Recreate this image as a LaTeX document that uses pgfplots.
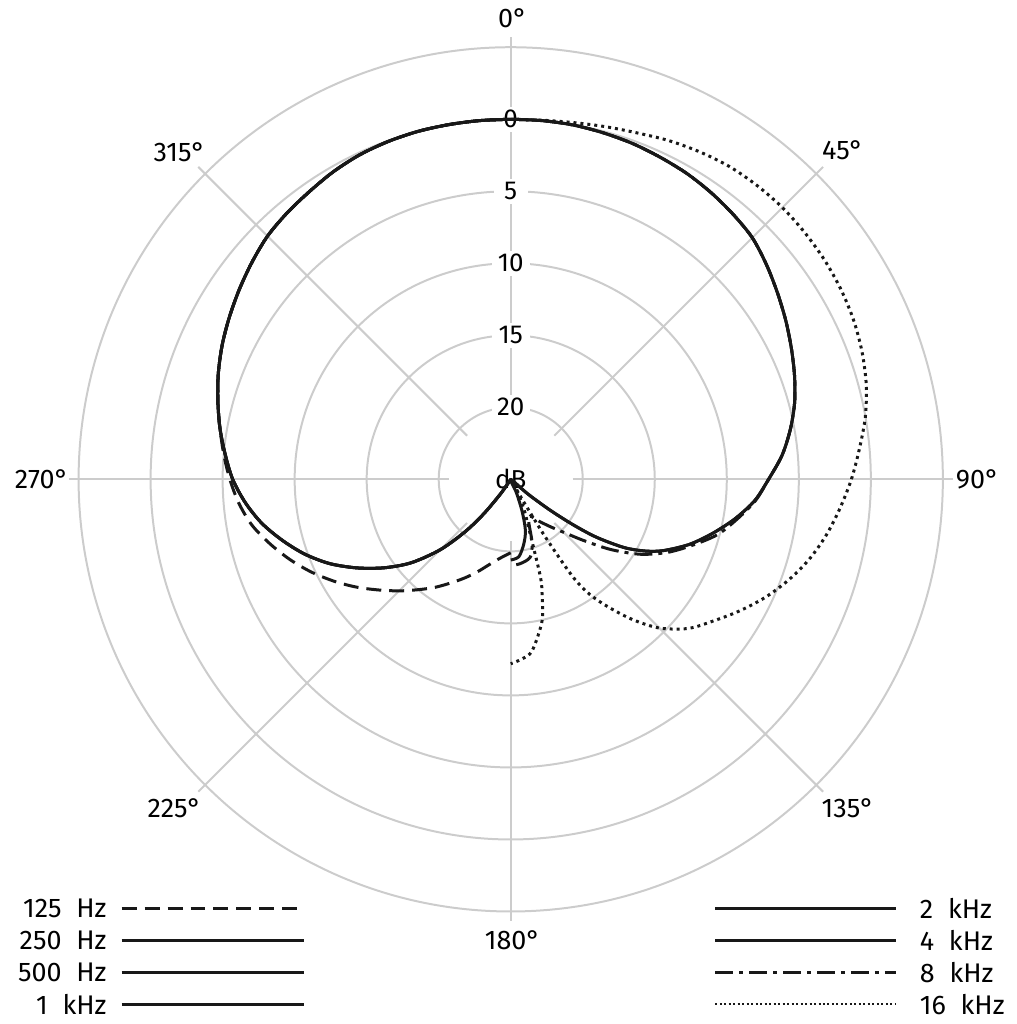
\documentclass[border=0pt]{standalone}
\usepackage{pgfplots}
\pgfplotsset{compat=1.18}
\usepackage{pgfplotstable}
\usepackage{fontspec}
\setmainfont{Fira Sans}
\definecolor{gridc}{RGB}{204,204,204}
\definecolor{curvec}{RGB}{24,24,24}
\newcommand{\wsp}{\hspace{0.55em}}

% left half: 250 Hz, 500 Hz, 1 kHz (angle in degrees clockwise from 0, level in dB)
\pgfplotstableread{
a db
213 -25
215 -23.8
218 -22
221 -20.2
225 -18.1
230 -16.0
235 -14.3
240 -12.7
245 -11.15
250 -9.8
255 -8.6
260 -7.45
265 -6.5
270 -5.7
275 -5.1
280 -4.5
285 -3.95
290 -3.4
295 -2.9
300 -2.45
305 -2.0
310 -1.55
315 -1.12
320 -0.85
325 -0.62
330 -0.35
335 -0.15
340 -0.05
345 0
350 0
355 0
360 0
}\tabL

% 125 Hz
\pgfplotstableread{
a db
180 -19.9
185 -19.65
190 -19.3
195 -18.8
200 -18.15
205 -17.45
210 -16.7
215 -15.85
220 -15.0
225 -14.05
230 -13.05
235 -11.95
240 -10.85
245 -9.75
250 -8.7
255 -7.7
260 -6.75
265 -6.05
270 -5.5
275 -5.0
280 -4.5
285 -3.95
290 -3.4
295 -2.9
300 -2.45
305 -2.0
310 -1.55
315 -1.12
320 -0.85
325 -0.62
330 -0.35
335 -0.15
340 -0.05
345 0
350 0
355 0
360 0
}\tabD

% 2 kHz
\pgfplotstableread{
a db
0 0
5 0
10 -0.02
15 -0.1
20 -0.2
25 -0.35
30 -0.5
35 -0.72
40 -0.98
45 -1.28
50 -1.82
55 -2.4
60 -2.95
65 -3.5
70 -4.03
75 -4.6
80 -5.3
85 -6.1
90 -7.1
95 -8.0
100 -9.2
105 -10.5
110 -11.8
115 -13.3
118 -14.4
121 -15.8
124 -17.8
126 -19.6
128 -21.5
130.4 -23.4
133 -25
157 -24
160.5 -22.6
164 -21.3
168.7 -20.4
174 -19.6
180 -19.4
}\tabRtwo

% 4 kHz
\pgfplotstableread{
a db
0 0
5 0
10 -0.02
15 -0.1
20 -0.2
25 -0.35
30 -0.5
35 -0.72
40 -0.98
45 -1.28
50 -1.82
55 -2.4
60 -2.95
65 -3.5
70 -4.03
75 -4.6
80 -5.3
85 -6.1
90 -7.1
95 -8.0
100 -9.2
105 -10.5
110 -11.8
115 -13.3
118 -14.4
121 -15.8
124 -17.8
126 -19.6
128 -21.5
130.4 -23.4
133 -25
}\tabRfour

% 8 kHz
\pgfplotstableread{
a db
0 0
5 0
10 -0.02
15 -0.1
20 -0.2
25 -0.35
30 -0.5
35 -0.72
40 -0.98
45 -1.28
50 -1.82
55 -2.4
60 -2.95
65 -3.5
70 -4.03
75 -4.6
80 -5.3
85 -6.1
90 -7.1
95 -7.95
100 -9.05
105 -10.15
110 -11.6
115 -13.0
120 -14.6
125 -16.5
130 -18.4
135 -19.8
140 -20.7
146 -21.5
152 -22.1
157 -21.8
161 -20.5
164.5 -19.6
168 -19.3
174 -19.1
180 -19.0
}\tabReight

% 16 kHz
\pgfplotstableread{
a db
0 0
5 0.03
10 0.15
15 0.35
20 0.6
25 0.95
30 1.25
35 1.5
40 1.62
45 1.68
50 1.65
55 1.58
60 1.45
65 1.25
70 0.95
75 0.55
80 0.0
85 -0.7
90 -1.35
95 -2.05
100 -2.75
105 -3.55
110 -4.5
115 -5.55
120 -6.7
125 -7.85
130 -8.9
135 -10.4
139 -12.1
142.5 -13.8
145.5 -15.3
147.5 -17.0
149 -20.3
150 -23.2
151 -25
153 -23.8
156.5 -22.6
159.7 -21.4
163 -18.0
164.8 -16.7
167.6 -14.9
172.9 -13.0
176.5 -12.5
180 -12.2
}\tabRsixteen

\begin{document}
\fontsize{27}{32}\selectfont
\begin{tikzpicture}
\begin{axis}[
  scale only axis, width=1019pt, height=1024pt,
  xmin=-35.457, xmax=35.111, ymin=-37.812, ymax=33.102,
  hide axis, clip=false,
  every axis plot/.append style={curvec, line width=3pt, smooth, tension=0.5, line join=round},
]
\path (axis cs:-35.457,-37.812) rectangle (axis cs:35.111,33.102);
% grid circles
\draw[gridc, line width=2pt] (axis cs:0,0) circle[radius=72.2pt];
\draw[gridc, line width=2pt] (axis cs:0,0) circle[radius=144.4pt];
\draw[gridc, line width=2pt] (axis cs:0,0) circle[radius=216.6pt];
\draw[gridc, line width=2pt] (axis cs:0,0) circle[radius=288.8pt];
\draw[gridc, line width=2pt] (axis cs:0,0) circle[radius=361pt];
\draw[gridc, line width=2pt] (axis cs:0,0) circle[radius=433.2pt];
% spokes
\draw[gridc, line width=2pt] (axis cs:0,4.29) -- (axis cs:0,30.68);
\draw[gridc, line width=2pt] (axis cs:3.03,3.03) -- (axis cs:21.69,21.69);
\draw[gridc, line width=2pt] (axis cs:4.29,0) -- (axis cs:30.68,0);
\draw[gridc, line width=2pt] (axis cs:3.03,-3.03) -- (axis cs:21.69,-21.69);
\draw[gridc, line width=2pt] (axis cs:0,-4.29) -- (axis cs:0,-30.68);
\draw[gridc, line width=2pt] (axis cs:-3.03,-3.03) -- (axis cs:-21.69,-21.69);
\draw[gridc, line width=2pt] (axis cs:-4.29,0) -- (axis cs:-30.68,0);
\draw[gridc, line width=2pt] (axis cs:-3.03,3.03) -- (axis cs:-21.69,21.69);
% radial labels
\node[fill=white, inner sep=0pt, minimum width=34pt, minimum height=25pt, font=\fontsize{26}{30}\selectfont] at (axis cs:0,25) {0};
\node[fill=white, inner sep=0pt, minimum width=34pt, minimum height=25pt, font=\fontsize{26}{30}\selectfont] at (axis cs:0,20) {5};
\node[fill=white, inner sep=0pt, minimum width=38pt, minimum height=25pt, font=\fontsize{26}{30}\selectfont] at (axis cs:0,15) {10};
\node[fill=white, inner sep=0pt, minimum width=38pt, minimum height=25pt, font=\fontsize{26}{30}\selectfont] at (axis cs:0,10) {15};
\node[fill=white, inner sep=0pt, minimum width=38pt, minimum height=25pt, font=\fontsize{26}{30}\selectfont] at (axis cs:0,5) {20};
\node[inner sep=0pt, font=\fontsize{26}{30}\selectfont] at (axis cs:0,0) {dB};
% angle labels
\node at (axis cs:0.14,31.99) {0°};
\node at (axis cs:23.06,22.85) {45°};
\node at (axis cs:32.41,0) {90°};
\node at (axis cs:23.41,-22.85) {135°};
\node at (axis cs:0.14,-31.99) {180°};
\node at (axis cs:-23.34,-22.85) {225°};
\node at (axis cs:-32.55,0) {270°};
\node at (axis cs:-22.99,22.71) {315°};
% curves
\addplot[dash pattern=on 15pt off 8pt] table[x expr={(25+\thisrow{db})*sin(\thisrow{a})}, y expr={(25+\thisrow{db})*cos(\thisrow{a})}] {\tabD};
\addplot[] table[x expr={(25+\thisrow{db})*sin(\thisrow{a})}, y expr={(25+\thisrow{db})*cos(\thisrow{a})}] {\tabL};
\addplot[] table[x expr={(25+\thisrow{db})*sin(\thisrow{a})}, y expr={(25+\thisrow{db})*cos(\thisrow{a})}] {\tabL};
\addplot[] table[x expr={(25+\thisrow{db})*sin(\thisrow{a})}, y expr={(25+\thisrow{db})*cos(\thisrow{a})}] {\tabL};
\addplot[dash pattern=on 3pt off 4pt] table[x expr={(25+\thisrow{db})*sin(\thisrow{a})}, y expr={(25+\thisrow{db})*cos(\thisrow{a})}] {\tabRsixteen};
\addplot[dash pattern=on 18pt off 6pt on 4pt off 6pt] table[x expr={(25+\thisrow{db})*sin(\thisrow{a})}, y expr={(25+\thisrow{db})*cos(\thisrow{a})}] {\tabReight};
\addplot[] table[x expr={(25+\thisrow{db})*sin(\thisrow{a})}, y expr={(25+\thisrow{db})*cos(\thisrow{a})}] {\tabRfour};
\addplot[] table[x expr={(25+\thisrow{db})*sin(\thisrow{a})}, y expr={(25+\thisrow{db})*cos(\thisrow{a})}] {\tabRtwo};
% legend
\draw[curvec, line width=3pt, dash pattern=on 15pt off 8pt] (axis cs:-27.01,-29.78) -- (axis cs:-14.34,-29.78);
\draw[curvec, line width=3pt] (axis cs:-27.01,-31.99) -- (axis cs:-14.34,-31.99);
\draw[curvec, line width=3pt] (axis cs:-27.01,-34.21) -- (axis cs:-14.34,-34.21);
\draw[curvec, line width=3pt] (axis cs:-27.01,-36.43) -- (axis cs:-14.34,-36.43);
\node[anchor=east, inner sep=0pt] at (axis cs:-28.05,-29.78) {125\wsp Hz};
\node[anchor=east, inner sep=0pt] at (axis cs:-28.05,-31.99) {250\wsp Hz};
\node[anchor=east, inner sep=0pt] at (axis cs:-28.05,-34.21) {500\wsp Hz};
\node[anchor=east, inner sep=0pt] at (axis cs:-28.05,-36.43) {1\wsp kHz};
\draw[curvec, line width=3pt] (axis cs:14.20,-29.78) -- (axis cs:26.73,-29.78);
\draw[curvec, line width=3pt] (axis cs:14.20,-31.99) -- (axis cs:26.73,-31.99);
\draw[curvec, line width=3pt, dash pattern=on 18pt off 6pt on 4pt off 6pt] (axis cs:14.20,-34.21) -- (axis cs:26.73,-34.21);
\draw[curvec, line width=2pt, dash pattern=on 2pt off 2.5pt] (axis cs:14.20,-36.43) -- (axis cs:26.73,-36.43);
\node[anchor=west, inner sep=0pt] at (axis cs:28.39,-29.78) {2\wsp kHz};
\node[anchor=west, inner sep=0pt] at (axis cs:28.39,-31.99) {4\wsp kHz};
\node[anchor=west, inner sep=0pt] at (axis cs:28.39,-34.21) {8\wsp kHz};
\node[anchor=west, inner sep=0pt] at (axis cs:28.39,-36.43) {16\wsp kHz};
\end{axis}
\end{tikzpicture}
\end{document}
